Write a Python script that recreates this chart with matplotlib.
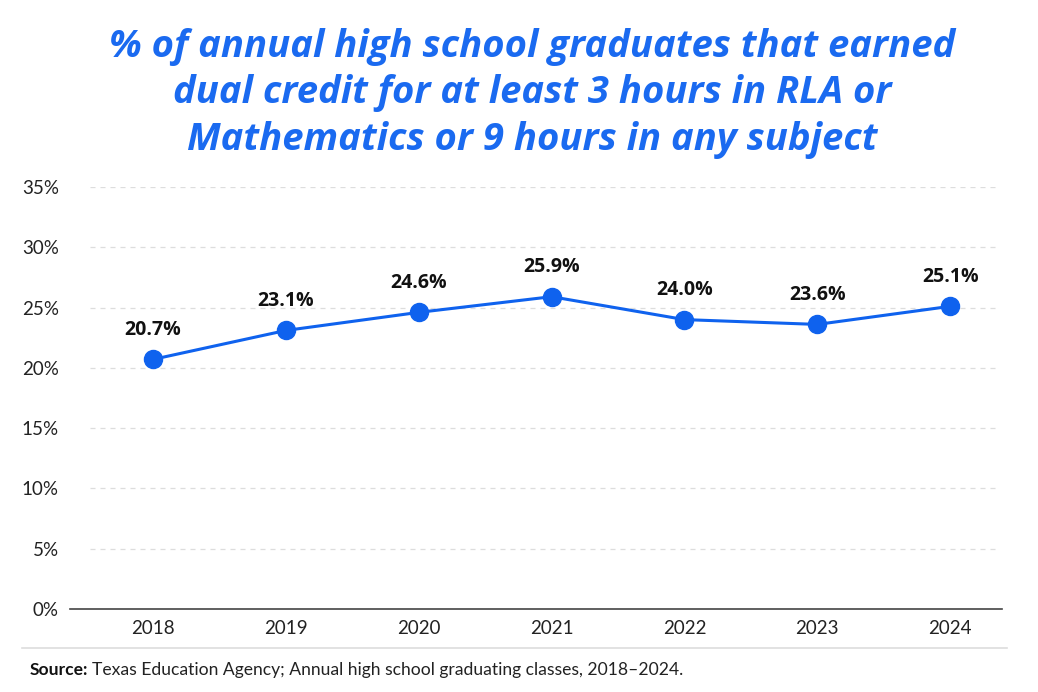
import matplotlib.pyplot as plt
from matplotlib.lines import Line2D

years = ['2018', '2019', '2020', '2021', '2022', '2023', '2024']
pct = [20.7, 23.1, 24.6, 25.9, 24.0, 23.6, 25.1]
yticks = [0, 5, 10, 15, 20, 25, 30, 35]

blue = '#0f62ee'
title_blue = '#1a6af0'

fig = plt.figure(figsize=(10.38, 6.92), dpi=100)
ax = fig.add_axes([0.0674, 0.12, 0.8979, 0.6098])

x = list(range(len(years)))
ax.plot(x, pct, color=blue, lw=2.2, marker='o', ms=13, zorder=3)
for xi, v in zip(x, pct):
    ax.annotate(f'{v:.1f}%', (xi, v), xytext=(0, 14), textcoords='offset points',
                ha='center', va='bottom', fontsize=14, fontweight='bold',
                family='Open Sans', color='#111111')

ax.set_xlim(-0.625, 6.39)
ax.set_ylim(0, 35)
ax.set_xticks(x)
ax.set_xticklabels(years)
ax.set_yticks(yticks)
ax.set_yticklabels([f'{t}%' for t in yticks])
ax.tick_params(length=0, labelsize=13.5, colors='#222222', pad=8)
for lab in ax.get_xticklabels() + ax.get_yticklabels():
    lab.set_family('Lato')
for t in yticks[1:]:
    ax.axhline(t, xmin=0.022, xmax=0.993, color='#dddddd', lw=0.9, ls=(0, (4, 4)), zorder=1)
for s in ['top', 'right', 'left']:
    ax.spines[s].set_visible(False)
ax.spines['bottom'].set_color('#444444')
ax.spines['bottom'].set_linewidth(1.2)

fig.text(0.513, 0.96, '% of annual high school graduates that earned\n'
         'dual credit for at least 3 hours in RLA or\n'
         'Mathematics or 9 hours in any subject',
         ha='center', va='top', fontsize=27.5, fontweight='bold', style='italic',
         family='Open Sans', color=title_blue, linespacing=1.3)

fig.add_artist(Line2D([22 / 1038, 1007 / 1038], [1 - 648 / 692, 1 - 648 / 692],
                      color='#dddddd', lw=1.2))
src = fig.text(30 / 1038, 1 - 670 / 692, 'Source:', fontsize=12.6, va='center',
               fontweight='bold', family='Lato', color='#111111')
fig.canvas.draw()
bb = src.get_window_extent()
fig.text((bb.x1 + 4) / 1038, 1 - 670 / 692,
         'Texas Education Agency; Annual high school graduating classes, 2018\u20132024.',
         fontsize=12.6, va='center', family='Lato', color='#222222')

fig.savefig('out.png', dpi=100)
